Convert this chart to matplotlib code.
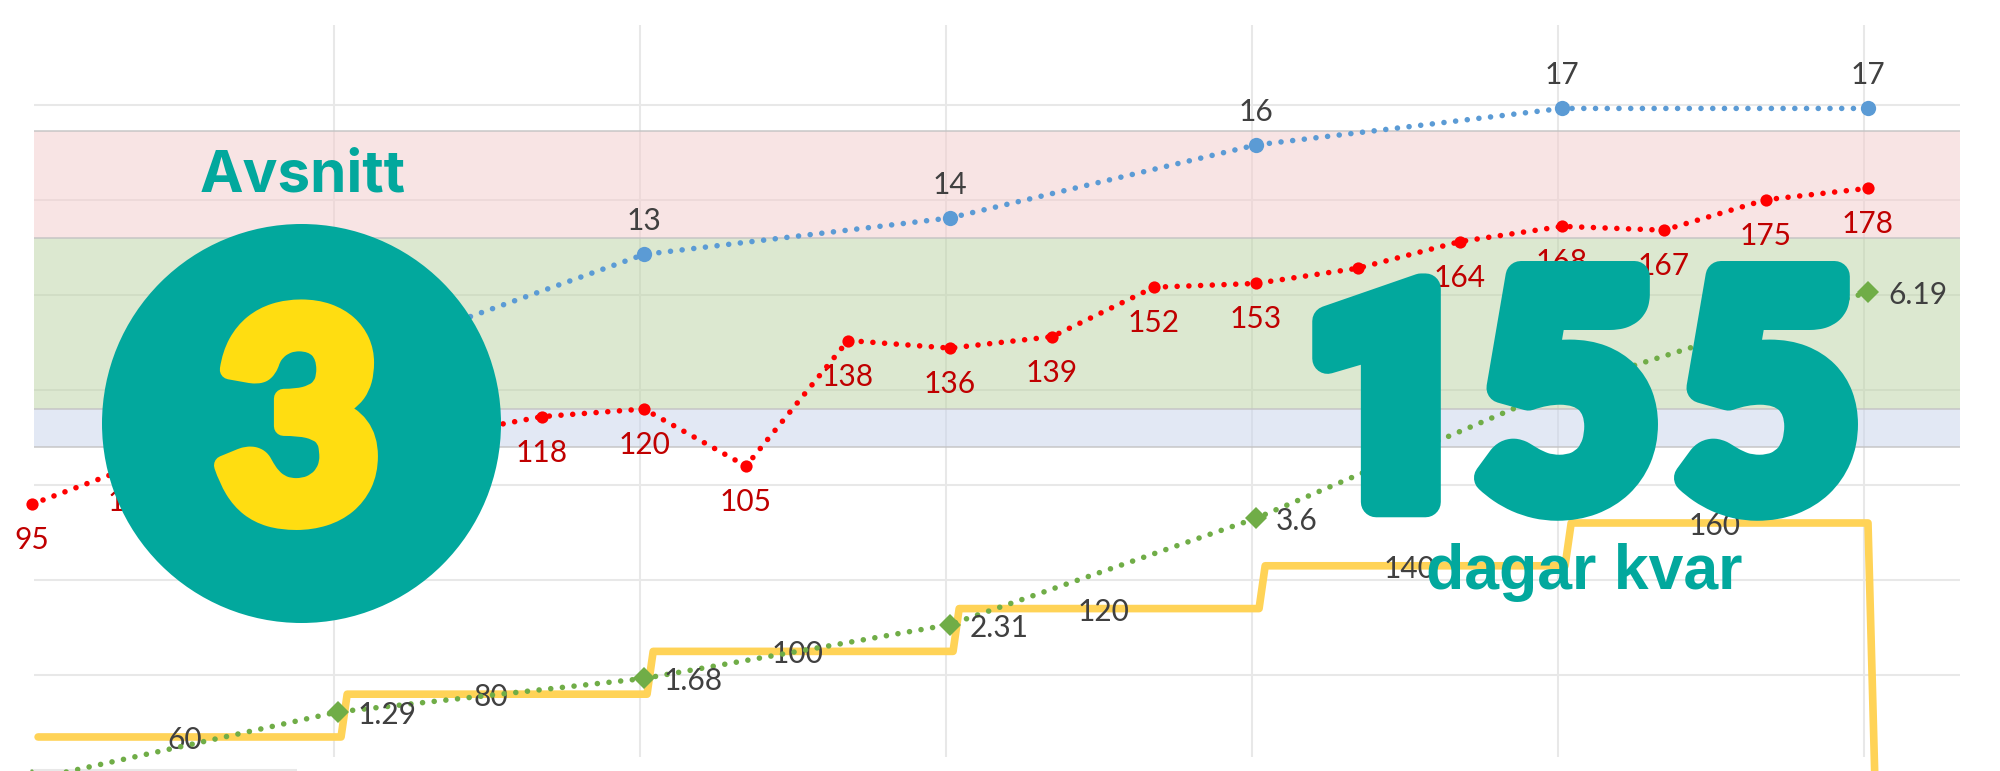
import matplotlib
matplotlib.use('Agg')
import matplotlib.pyplot as plt
import matplotlib.patheffects as pe
from matplotlib.patches import Circle

# x is the running index of the red series, the other series sit on every third one
red_x = list(range(19))
red_y = [95, 105, 108, 110, 113, 118, 120, 105, 138, 136, 139, 152, 153, 157, 164, 168, 167, 175, 178]
# the ones behind the badge and the big number are left out
red_labels = ['95', '105', '', '', '', '118', '120', '105', '138', '136', '139', '152', '153', '',
              '164', '168', '167', '175', '178']

blue_x = [3, 6, 9, 12, 15, 18]
blue_y = [10, 13, 14, 16, 17, 17]
blue_labels = ['', '13', '14', '16', '17', '17']

green_x = [0, 3, 6, 9, 12, 15, 18]
green_y = [0.5, 1.29, 1.68, 2.31, 3.55, 5.07, 6.19]
green_labels = ['', '1.29', '1.68', '2.31', '3.6', '', '6.19']

yellow_x = [0.06, 3.03, 3.09, 6.03, 6.09, 9.03, 9.09, 12.03, 12.09, 15.03, 15.09, 18.0, 18.09]
yellow_y = [60, 60, 80, 80, 100, 100, 120, 120, 140, 140, 160, 160, 0]
yellow_label_x = [1.5, 4.5, 7.5, 10.5, 13.5, 16.5]
yellow_labels = [60, 80, 100, 120, 140, 160]

grid_y = [200, 175, 150, 125, 100, 75, 50]
grid_x = [2.96, 5.96, 8.96, 11.96, 14.96, 17.96]
bands = [(165, 193, '#F3CBCB'), (120, 165, '#BBD3A3'), (110, 120, '#C7D3EB')]

TEAL = '#02A89D'
GREY = '#404040'
PX = 0.72  # points per pixel at dpi 100
DOTS = (0, (0.01, 2.1))

plt.rcParams['font.family'] = ['Lato', 'DejaVu Sans']

fig = plt.figure(figsize=(20, 7.71), dpi=100)
ax = fig.add_axes([0, 0, 1, 1])
ax.set_xlim(-32 / 102, (2000 - 32) / 102)
ax.set_ylim(24.86, 227.49)
ax.axis('off')


def twin(ymin, ymax):
    a = ax.twinx()
    a.set_ylim(ymin, ymax)
    a.axis('off')
    return a


def label(a, x, y, txt, dx, dy, color, ha='center'):
    if txt == '':
        return
    a.annotate(str(txt), (x, y), xytext=(dx * PX, dy * PX), textcoords='offset points',
               ha=ha, va='center', fontsize=21.5, color=color)


# grid and bands
ax.hlines(grid_y, 0.02, 18.9, color='#E8E8E8', lw=1.5, zorder=1)
ax.hlines(25, -0.02, 2.6, color='#E8E8E8', lw=1.5, zorder=1)
ax.vlines(grid_x, 28.5, 220.8, color='#E8E8E8', lw=1.5, zorder=1)
for lo, hi, col in bands:
    ax.fill_between([0.02, 18.9], lo, hi, facecolor=col, alpha=0.5, edgecolor='none', zorder=2)
ax.hlines([193, 165, 120, 110], 0.02, 18.9, color='#C4C4C4', alpha=0.8, lw=1.3, zorder=2)

# yellow steps
ay = twin(44.1, 404.4)
ay.plot(yellow_x, yellow_y, color='#FFD357', lw=5.5, solid_joinstyle='round', solid_capstyle='round')
for x, v in zip(yellow_label_x, yellow_labels):
    label(ay, x, v, v, 0, -3, GREY)

# green
ag = twin(0.6, 9.6)
ag.plot(green_x, green_y, color='#70AD47', lw=4, ls=DOTS, dash_capstyle='round',
        marker='D', ms=11.2, mew=0)
for x, v, t in zip(green_x, green_y, green_labels):
    label(ag, x, v, t, 20, -3, GREY, ha='left')

# red
ax.plot(red_x, red_y, color='#FF0000', lw=4, ls=DOTS, dash_capstyle='round',
        marker='o', ms=8.8, mew=0, zorder=4)
for x, v, t in zip(red_x, red_y, red_labels):
    label(ax, x, v, t, 0, -36, '#C00000')

# blue
ab = twin(-1.15, 19.97)
ab.plot(blue_x, blue_y, color='#5B9BD5', lw=4, ls=DOTS, dash_capstyle='round',
        marker='o', ms=11, mew=0)
for x, v, t in zip(blue_x, blue_y, blue_labels):
    label(ab, x, v, t, 0, 33, GREY)

# badge and countdown on top, in pixels
top = fig.add_axes([0, 0, 1, 1])
top.set_xlim(0, 2000)
top.set_ylim(771, 0)
top.axis('off')
top.add_patch(Circle((301.5, 423.5), 199.5, color=TEAL, lw=0))

top.text(303, 192, 'Avsnitt', family='Inter', fontweight='bold', fontsize=42, color=TEAL,
         ha='center', va='baseline')
top.text(1584, 589, 'dagar kvar', family='Liberation Sans', fontweight='bold', fontsize=45,
         color=TEAL, ha='center', va='baseline')
top.text(298, 518, '3', family='Lato', fontweight=900, fontsize=205, color='#FFDD11', ha='center',
         va='baseline', path_effects=[pe.withStroke(linewidth=14, foreground='#FFDD11')])

# big digits are placed one by one, the 1 is narrower than any font has it
stroke = [pe.withStroke(linewidth=22, foreground=TEAL)]
top.text(1390, 502, '1', family='Roboto', fontweight=900, fontsize=216, color=TEAL, ha='center',
         va='baseline', path_effects=stroke)
top.text(1568, 503, '5', family='Lato', fontweight=900, fontsize=225, color=TEAL, ha='center',
         va='baseline', path_effects=stroke)
top.text(1768, 503, '5', family='Lato', fontweight=900, fontsize=225, color=TEAL, ha='center',
         va='baseline', path_effects=stroke)

fig.savefig('out.png', dpi=100)
